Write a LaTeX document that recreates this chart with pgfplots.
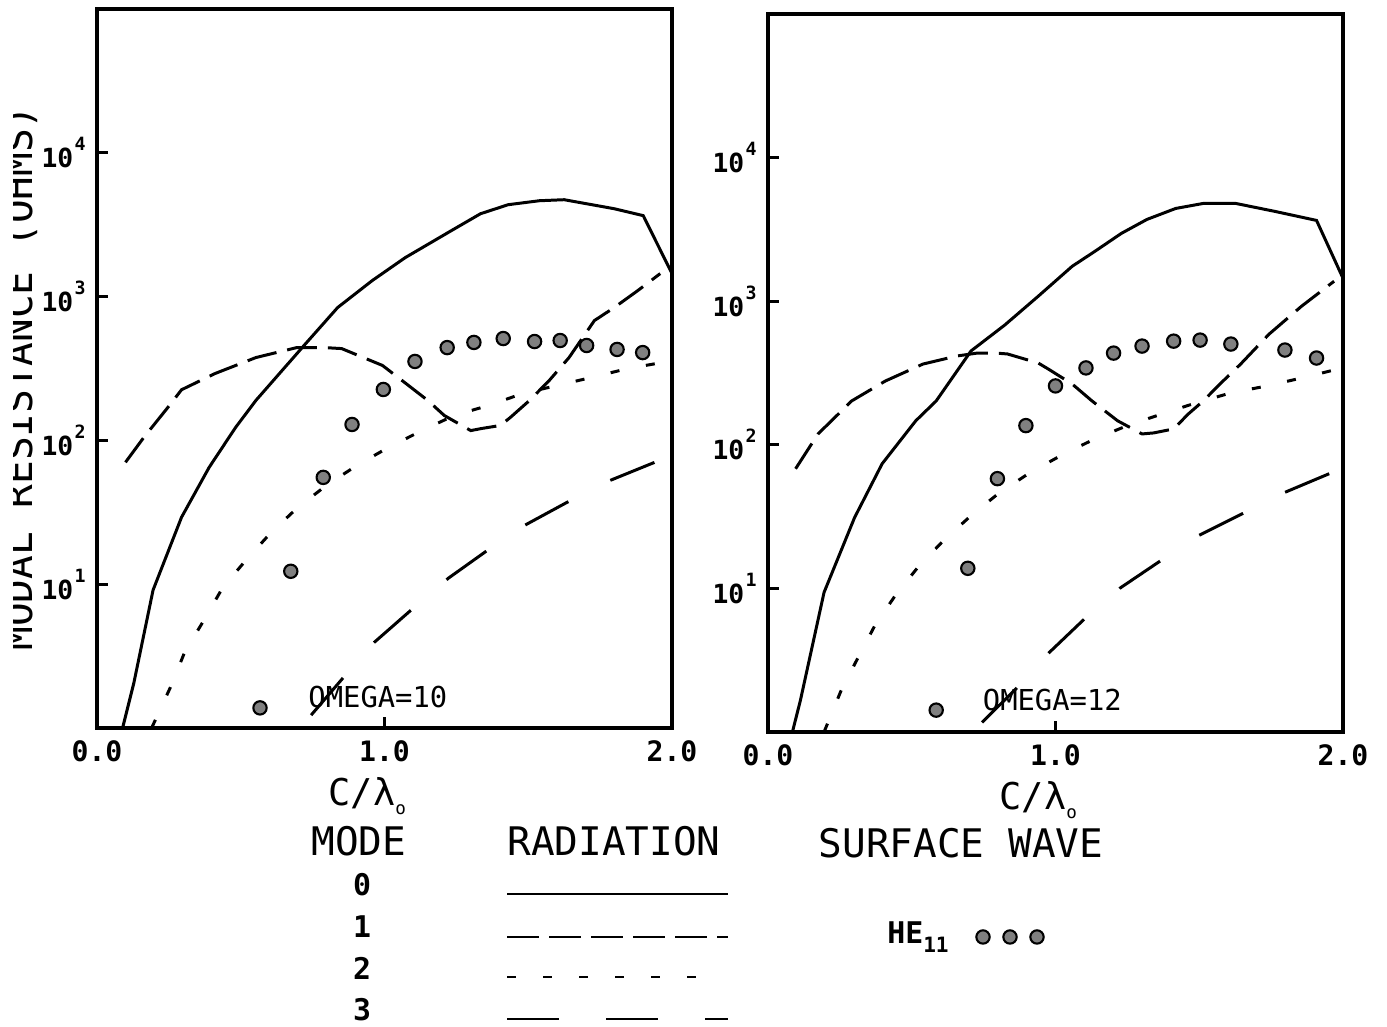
\documentclass[border=0pt]{standalone}
\usepackage{pgfplots}
\pgfplotsset{compat=1.18}
\usepackage{fontspec}
\setmainfont{DejaVu Sans Mono}

% powers of ten for the resistance axis
\newcommand\tenp[1]{10\kern0.05em\raisebox{0.65em}{\fontsize{5.2}{6}\selectfont #1}}
\newcommand\lamo{C/λ\raisebox{-0.25em}{\fontsize{5}{6}\selectfont o}}

\tikzset{
  modezero/.style={black, line width=0.85pt, solid},
  modeone/.style={black, line width=0.85pt, dash pattern=on 0.30cm off 0.11cm},
  modetwo/.style={black, line width=0.85pt, dash pattern=on 0.09cm off 0.27cm},
  modethree/.style={black, line width=0.85pt, dash pattern=on 0.49cm off 0.47cm},
}

% ---------- OMEGA = 10 ----------
\pgfplotstableread{
x y
0.089 1.0
0.128 2.05
0.195 9.1
0.294 29.2
0.390 64.9
0.482 123
0.553 190
0.720 457
0.837 839
0.957 1291
1.072 1866
1.232 2871
1.334 3770
1.430 4355
1.539 4642
1.625 4718
1.799 4084
1.900 3656
2.000 1445
}\aZero
\pgfplotstableread{
x y
0.099 70.4
0.163 105
0.252 175
0.294 225
0.411 292
0.553 377
0.695 442
0.791 442
0.851 435
0.993 332
1.061 261
1.150 190
1.208 149
1.300 117
1.338 121
1.403 127
1.437 144
1.505 190
1.573 261
1.642 377
1.730 681
1.799 839
1.881 1101
1.959 1445
}\aOne
\pgfplotstableread{
x y
0.190 1.0
0.259 1.99
0.305 3.37
0.372 5.62
0.436 9.38
0.518 14.7
0.603 22.6
0.695 33.7
0.798 48.7
0.904 67.0
1.014 89.4
1.130 117
1.242 149
1.362 175
1.481 212
1.601 241
1.720 274
1.846 316
1.966 348
2.000 355
}\aTwo
\pgfplotstableread{
x y
0.706 1.0
0.745 1.23
0.855 2.22
0.961 3.89
1.096 6.70
1.222 11.0
1.358 17.2
1.488 25.7
1.635 37.1
1.785 52.7
1.939 70.3
}\aThree
\pgfplotstableread{
x y
0.567 1.38
0.674 12.3
0.787 55.3
0.887 129
0.996 226
1.106 354
1.218 442
1.311 480
1.413 511
1.522 487
1.611 495
1.703 457
1.809 429
1.898 408
}\aHE

% ---------- OMEGA = 12 ----------
\pgfplotstableread{
x y
0.085 1.0
0.113 1.67
0.195 9.38
0.301 31.1
0.397 73.8
0.514 147
0.585 202
0.706 450
0.823 681
0.940 1083
1.058 1750
1.137 2224
1.229 2966
1.318 3710
1.418 4424
1.514 4795
1.627 4795
1.764 4217
1.908 3652
2.000 1445
}\bZero
\pgfplotstableread{
x y
0.096 68.1
0.174 119
0.245 164
0.291 202
0.408 278
0.539 365
0.656 415
0.727 435
0.794 435
0.833 429
0.940 371
0.975 337
1.058 265
1.127 202
1.216 147
1.301 119
1.342 121
1.411 129
1.462 164
1.514 202
1.572 265
1.644 365
1.743 590
1.856 923
1.969 1377
}\bOne
\pgfplotstableread{
x y
0.195 1.0
0.255 1.96
0.312 3.26
0.372 5.53
0.443 8.94
0.521 14.0
0.610 21.5
0.706 32.1
0.805 46.4
0.911 63.9
1.024 85.3
1.137 110
1.250 136
1.370 164
1.479 193
1.610 230
1.736 257
1.856 292
1.983 337
2.000 340
}\bTwo
\pgfplotstableread{
x y
0.709 1.0
0.745 1.17
0.865 2.02
0.979 3.59
1.103 6.19
1.223 10.0
1.366 15.6
1.497 23.3
1.651 33.2
1.795 46.4
1.952 62.9
}\bThree
\pgfplotstableread{
x y
0.585 1.42
0.695 13.8
0.798 58.1
0.897 136
1.000 257
1.106 343
1.202 435
1.301 487
1.411 527
1.503 536
1.610 503
1.798 457
1.908 402
}\bHE

\pgfplotsset{
  every axis/.append style={
    width=5.75cm, scale only axis,
    xmin=0, xmax=2, ymin=1, ymax=1e5,
    axis line style={line width=0.9pt},
    xtick={0,1,2}, xticklabels={0.0,1.0,2.0},
    ytick={10,100,1000,10000},
    yticklabels={\tenp{1},\tenp{2},\tenp{3},\tenp{4}},
    yminorticks=false, xminorticks=false,
    tick align=inside, major tick length=0.11cm,
    xtick pos=left, ytick pos=left,
    tick style={line width=0.8pt, black},
    ticklabel style={font=\fontsize{8}{10}\selectfont\bfseries},
    yticklabel style={xshift=0.01cm, font=\fontsize{7.5}{9}\selectfont\bfseries},
    xlabel style={at={(axis description cs:0.47,0)}, anchor=center,
                  yshift=-0.68cm, font=\fontsize{10.5}{12}\selectfont},
  },
  hedots/.style={only marks, mark=*, mark size=1.9pt,
             mark options={fill=black!50, draw=black, line width=0.6pt, solid}},
}

\begin{document}
\begin{tikzpicture}
\path[use as bounding box] (0,0) rectangle (13.87,10.27);

\begin{semilogyaxis}[height=7.19cm, at={(0.97cm,2.99cm)}, anchor=south west, xlabel={\lamo}]
  \addplot[modezero] table {\aZero};
  \addplot[modeone] table {\aOne};
  \addplot[modetwo] table {\aTwo};
  \addplot[modethree, dash phase=0.79cm] table {\aThree};
  \addplot[hedots] table {\aHE};
  \node[font=\fontsize{8.2}{9}\selectfont] at (axis cs:0.977,1.64) {OMEGA=10};
\end{semilogyaxis}

\begin{semilogyaxis}[height=7.18cm, at={(7.68cm,2.95cm)}, anchor=south west, xlabel={\lamo}]
  \addplot[modezero] table {\bZero};
  \addplot[modeone] table {\bOne};
  \addplot[modetwo] table {\bTwo};
  \addplot[modethree, dash phase=0.82cm] table {\bThree};
  \addplot[hedots] table {\bHE};
  \node[font=\fontsize{8.2}{9}\selectfont] at (axis cs:0.989,1.67) {OMEGA=12};
\end{semilogyaxis}

% key below the panels
\begin{scope}[font=\fontsize{11.2}{13}\selectfont]
  \node at (3.59,1.86) {MODE};
  \node at (6.14,1.86) {RADIATION};
  \node at (9.61,1.84) {SURFACE WAVE};
\end{scope}
\begin{scope}[font=\fontsize{8.5}{10}\selectfont\bfseries]
  \node at (3.62,1.42) {0};
  \node at (3.62,1.00) {1};
  \node at (3.62,0.59) {2};
  \node at (3.62,0.17) {3};
  \node at (9.18,0.90) {HE\raisebox{-0.3em}{\fontsize{6}{7}\selectfont 11}};
\end{scope}
\draw[modezero] (5.07,1.33) -- (7.28,1.33);
\draw[modeone, dash pattern=on 0.32cm off 0.10cm] (5.07,0.90) -- (7.28,0.90);
\draw[modetwo] (5.07,0.50) -- (6.97,0.50);
\draw[modethree, dash pattern=on 0.52cm off 0.47cm] (5.07,0.08) -- (7.28,0.08);
\foreach \cx in {9.83,10.10,10.37}
  \fill[black!50, draw=black, line width=0.6pt] (\cx,0.90) circle (1.9pt);

% vertical axis title, trimmed at the sheet edge
\node[rotate=90, anchor=base, inner sep=0pt, font=\fontsize{11.2}{13}\selectfont] at (0.32,6.49) {MODAL RESISTANCE (OHMS)};
\fill[white] (0,0) rectangle (0.13,10.27);
\end{tikzpicture}
\end{document}
